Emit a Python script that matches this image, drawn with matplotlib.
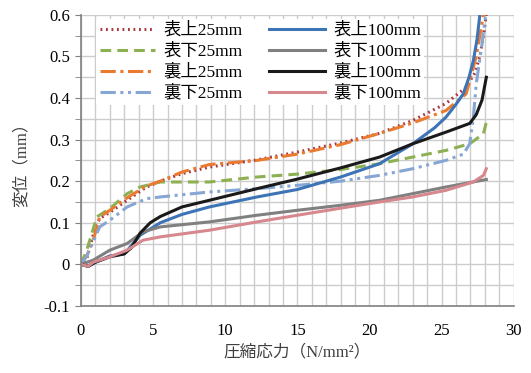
import matplotlib
matplotlib.use("Agg")
import matplotlib.pyplot as plt
from matplotlib.ticker import MultipleLocator

plt.rcParams['font.family'] = ['Liberation Serif', 'Noto Sans CJK JP']

# ---- data (stress N/mm2, displacement mm) ----
x_omote_ue25 = [0, 0.3, 0.6, 1.0, 1.3, 2, 3.2, 4.5, 5.5, 7, 8.9, 12, 15, 18, 20.7, 23, 25.3, 26.7, 27.3, 27.65, 27.9, 28.1]
y_omote_ue25 = [0, 0.0, 0.04, 0.09, 0.11, 0.125, 0.154, 0.185, 0.2, 0.218, 0.234, 0.25, 0.27, 0.292, 0.315, 0.346, 0.387, 0.426, 0.46, 0.5, 0.55, 0.6]

x_omote_shita25 = [0, 0.4, 1.1, 2, 3.2, 4.1, 5.5, 8.9, 12.2, 15, 18, 20.7, 23, 25.3, 26.95, 27.9, 28.1]
y_omote_shita25 = [0, 0.034, 0.114, 0.134, 0.17, 0.186, 0.198, 0.198, 0.21, 0.217, 0.228, 0.242, 0.258, 0.274, 0.29, 0.314, 0.342]

x_ura_ue25 = [0, 0.4, 0.85, 1.3, 2, 3.2, 4.5, 5.5, 7, 8.9, 12.2, 15, 18, 20.7, 23, 25.3, 26.7, 27.4, 27.9]
y_ura_ue25 = [0, 0.02, 0.058, 0.114, 0.13, 0.16, 0.188, 0.2, 0.222, 0.24, 0.25, 0.265, 0.288, 0.315, 0.34, 0.37, 0.41, 0.5, 0.6]

x_ura_shita25 = [0, 0.4, 1.3, 2, 3.2, 4.55, 5.5, 8.9, 12.2, 15, 18, 20.7, 23, 25.3, 26.5, 26.95, 27.2, 27.4, 27.8, 28.0, 28.1]
y_ura_shita25 = [0, 0.02, 0.09, 0.106, 0.138, 0.158, 0.162, 0.174, 0.182, 0.19, 0.2, 0.214, 0.23, 0.25, 0.265, 0.29, 0.354, 0.434, 0.53, 0.587, 0.6]

x_omote_ue100 = [0, 0.5, 1, 2, 3, 4.1, 5.5, 7, 8.9, 12.2, 15, 18, 20.7, 23, 24.5, 25.3, 26, 26.5, 26.9, 27.2, 27.45, 27.65]
y_omote_ue100 = [0, -0.005, 0.005, 0.02, 0.025, 0.07, 0.1, 0.12, 0.138, 0.162, 0.18, 0.21, 0.242, 0.29, 0.328, 0.354, 0.385, 0.41, 0.45, 0.49, 0.54, 0.6]

x_omote_shita100 = [0, 0.85, 2, 3.2, 4.3, 5.5, 8.9, 12.2, 15, 18, 20.7, 23, 25.3, 28.1]
y_omote_shita100 = [0, 0.01, 0.034, 0.05, 0.078, 0.09, 0.102, 0.118, 0.13, 0.142, 0.154, 0.17, 0.186, 0.204]

x_ura_ue100 = [0, 0.5, 1, 2, 3, 3.5, 4.1, 4.8, 5.5, 7, 8.9, 12.2, 15, 18, 20.7, 23, 25.3, 26.95, 27.4, 27.8, 28.1]
y_ura_ue100 = [0, -0.005, 0.005, 0.018, 0.025, 0.04, 0.075, 0.1, 0.115, 0.138, 0.154, 0.182, 0.205, 0.232, 0.258, 0.29, 0.318, 0.339, 0.36, 0.395, 0.45]

x_ura_shita100 = [0, 0.5, 0.85, 2, 3.2, 4.3, 5.5, 8.9, 12.2, 15, 18, 20.7, 23, 25.3, 27.2, 27.9, 28.1]
y_ura_shita100 = [0, -0.005, 0.005, 0.018, 0.034, 0.058, 0.066, 0.082, 0.102, 0.118, 0.135, 0.15, 0.162, 0.178, 0.198, 0.214, 0.23]

fig = plt.figure(figsize=(5.31, 3.73), dpi=100)
ax = fig.add_axes([0.1525, 0.18, 0.815, 0.78])

lw = 2.2
ax.plot(x_omote_ue25, y_omote_ue25, color="#A8383D", lw=lw, ls=(0, (0.6, 1.2)), label="表上25mm")
ax.plot(x_omote_shita25, y_omote_shita25, color="#8DB052", lw=lw, ls=(0, (3.5, 2)), label="表下25mm")
ax.plot(x_ura_ue25, y_ura_ue25, color="#EA7A30", lw=lw, ls=(0, (5, 1.5, 1, 1.5)), label="裏上25mm")
ax.plot(x_ura_shita25, y_ura_shita25, color="#86A6D4", lw=lw, ls=(0, (5, 1.5, 1, 1.5, 1, 1.5)), label="裏下25mm")
ax.plot(x_omote_ue100, y_omote_ue100, color="#3C74B5", lw=lw, label="表上100mm")
ax.plot(x_omote_shita100, y_omote_shita100, color="#808080", lw=lw, label="表下100mm")
ax.plot(x_ura_ue100, y_ura_ue100, color="#1A1A1A", lw=lw, label="裏上100mm")
ax.plot(x_ura_shita100, y_ura_shita100, color="#D6888E", lw=lw, label="裏下100mm")

ax.set_xlim(0, 30)
ax.set_ylim(-0.1, 0.6)
ax.xaxis.set_major_locator(MultipleLocator(5))
ax.xaxis.set_minor_locator(MultipleLocator(1))
ax.yaxis.set_major_locator(MultipleLocator(0.1))
ax.yaxis.set_minor_locator(MultipleLocator(0.05))
ax.yaxis.set_major_formatter(plt.FuncFormatter(lambda v, p: "0" if abs(v) < 1e-9 else f"{v:.1f}"))

ax.grid(which="both", color="#CCCCCC", lw=1.0)
ax.set_axisbelow(True)
for s in ["top", "right"]:
    ax.spines[s].set_visible(False)
for s in ["left", "bottom"]:
    ax.spines[s].set_color("#808080")
    ax.spines[s].set_linewidth(1.2)

ax.tick_params(axis="both", which="both", colors="#808080", labelcolor="black", labelsize=12)
ax.tick_params(axis="y", which="both", length=4, pad=4)
ax.tick_params(axis="x", which="both", length=0, pad=12)

ax.set_xlabel("圧縮応力（N/mm²）", fontsize=12, color="#404040", labelpad=4)
ax.set_ylabel("変位（mm）", fontsize=12, color="#404040", labelpad=10)

leg = ax.legend(ncol=2, loc="upper left", bbox_to_anchor=(0.035, 0.985), frameon=True,
                fontsize=12.5, handlelength=3.2, labelspacing=0.25, columnspacing=1.5,
                handletextpad=0.5, borderpad=0.2, borderaxespad=0)
leg.get_frame().set_facecolor("white")
leg.get_frame().set_edgecolor("none")
leg.get_frame().set_alpha(1.0)

fig.savefig("out.png", dpi=100)
